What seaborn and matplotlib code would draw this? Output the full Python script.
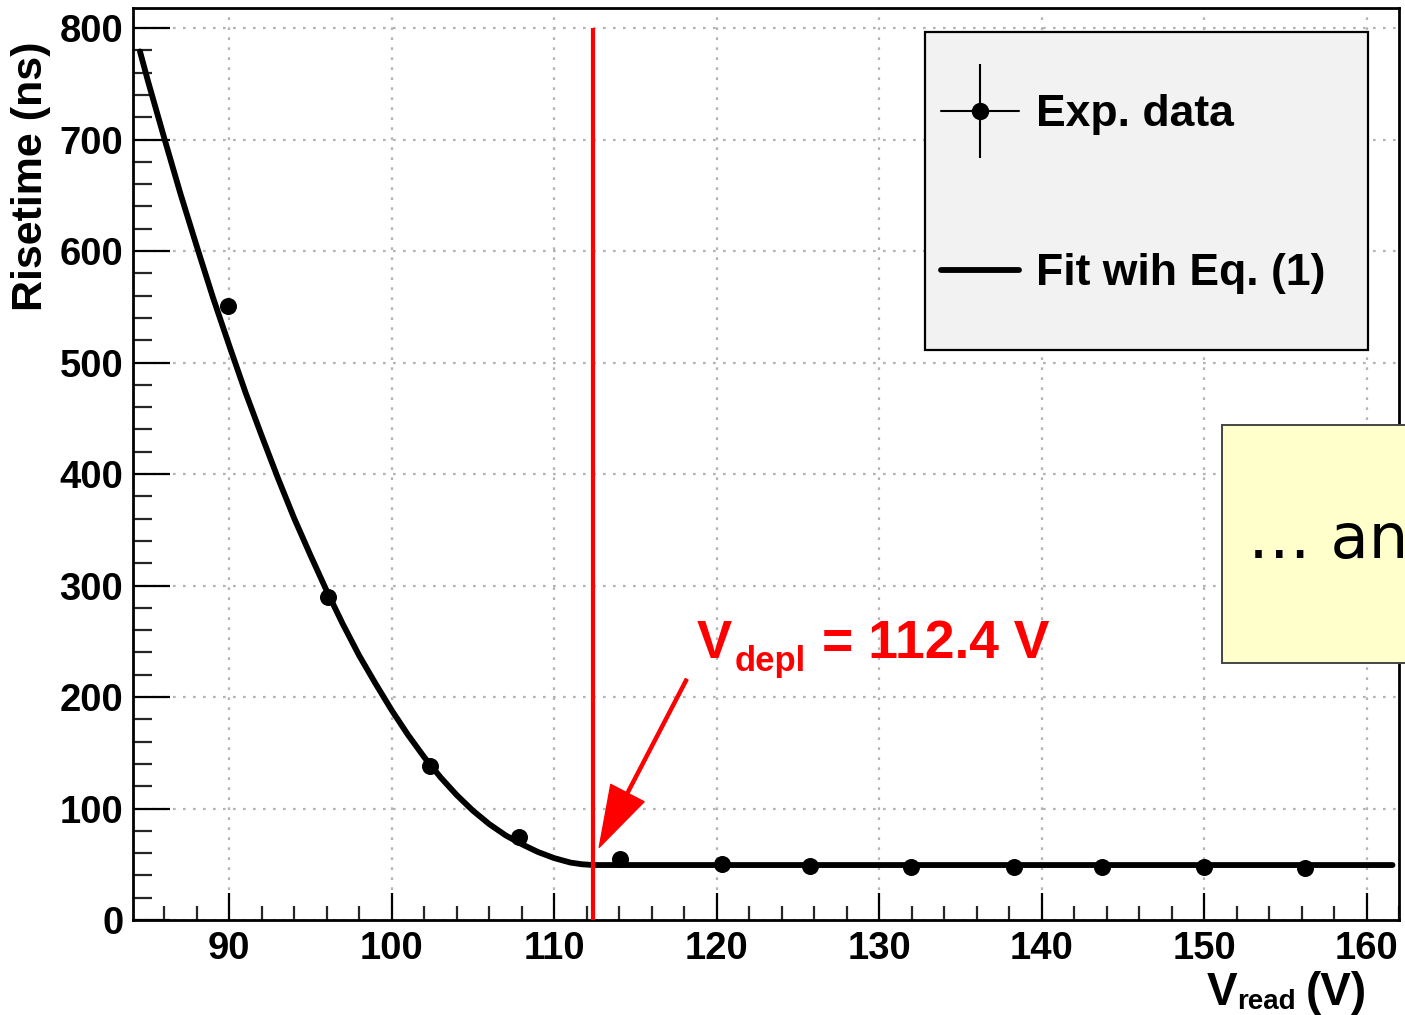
import numpy as np
import pandas as pd
import matplotlib
matplotlib.use("Agg")
import matplotlib.pyplot as plt
import seaborn as sns
from matplotlib.lines import Line2D
from matplotlib.patches import Rectangle
from matplotlib.ticker import MultipleLocator, FixedLocator

# ---------------- data ----------------
v_data = [89.9, 96.07, 102.35, 107.83, 114.06, 120.3, 125.74, 131.99,
          138.29, 143.7, 149.98, 156.2]
t_data = [550.7, 289.7, 138.4, 74.7, 54.7, 49.9, 48.4, 47.8,
          47.3, 47.3, 47.3, 46.4]

fit_v = [84.5, 85, 86, 87, 88, 89, 90, 91, 92, 93, 94, 95, 96, 97, 98, 99,
         100, 101, 102, 103, 104, 105, 106, 107, 108, 109, 110, 111, 111.7,
         112.4, 161.6]
fit_t = [779, 752, 701, 651, 604, 558, 515, 473, 434, 396, 360, 327, 295,
         265, 237, 212, 188, 166, 146, 128, 112, 98, 86, 76, 68, 61, 55.5,
         51.5, 50, 49.3, 49.3]

v_depl = 112.4
v_depl_top = 800

x_major = [90, 100, 110, 120, 130, 140, 150, 160]
y_major = [0, 100, 200, 300, 400, 500, 600, 700, 800]
x_lim = (84.07, 162.0)
y_lim = (0, 818)

legend_labels = ["Exp. data", "Fit wih Eq. (1)"]
x_title = ("V", "read", "(V)")
y_title = "Risetime (ns)"
depl_label = ("V", "depl", "= 112.4 V")
overlay_text = "\u2026 an"

# ---------------- style ----------------
sns.set_theme(style="white")
plt.rcParams["font.family"] = ["Liberation Sans", "DejaVu Sans"]
plt.rcParams["font.weight"] = "bold"
plt.rcParams["axes.labelweight"] = "bold"
plt.rcParams["text.color"] = "black"

W, H = 1405, 1015
fig = plt.figure(figsize=(W / 100, H / 100), dpi=100)
fig.patch.set_facecolor("white")


def fx(px):
    return px / W


def fy(py):
    return 1 - py / H


ax = fig.add_axes([fx(133), fy(920), (1399 - 133) / W, (920 - 8) / H])
ax.set_facecolor("white")

df_pts = pd.DataFrame({"V": v_data, "T": t_data})
df_fit = pd.DataFrame({"V": fit_v, "T": fit_t})

sns.lineplot(data=df_fit, x="V", y="T", ax=ax, color="black", lw=4.2,
             sort=False, legend=False, zorder=3)
sns.scatterplot(data=df_pts, x="V", y="T", ax=ax, color="black", s=150,
                edgecolor="black", linewidth=0, legend=False, zorder=4)
ax.vlines(v_depl, 0, v_depl_top, color="#ff0000", lw=3, zorder=5)

ax.annotate("", xy=(112.77, 65.2), xytext=(118.15, 215.9),
            arrowprops=dict(facecolor="#ff0000", edgecolor="#ff0000",
                            width=2.2, headwidth=27, headlength=44, shrink=0),
            zorder=6)

ax.set_xlim(*x_lim)
ax.set_ylim(*y_lim)
ax.xaxis.set_major_locator(FixedLocator(x_major))
ax.yaxis.set_major_locator(FixedLocator(y_major))
ax.xaxis.set_minor_locator(MultipleLocator(2))
ax.yaxis.set_minor_locator(MultipleLocator(20))
ax.set_xticklabels([str(v) for v in x_major])
ax.set_yticklabels([str(v) for v in y_major])
ax.set_xlabel("")
ax.set_ylabel("")

ax.grid(True, which="major", color="#b4b4b4", linestyle=(0, (1.2, 3.3)),
        lw=1.6, zorder=0)
ax.set_axisbelow(True)

for s in ax.spines.values():
    s.set_linewidth(2.0)
    s.set_color("black")

ax.tick_params(axis="x", which="major", direction="in", length=19.5,
               width=1.6, bottom=True, top=False, pad=8,
               labelsize=27.5, colors="black")
ax.tick_params(axis="x", which="minor", direction="in", length=10,
               width=1.6, bottom=True, top=False)
ax.tick_params(axis="y", which="major", direction="in", length=26.6,
               width=1.6, left=True, right=False, pad=7,
               labelsize=27.5, colors="black")
ax.tick_params(axis="y", which="minor", direction="in", length=13.5,
               width=1.6, left=True, right=False)
for lab in ax.get_xticklabels() + ax.get_yticklabels():
    lab.set_fontweight("bold")

# ---------------- legend ----------------
legend_frame = Rectangle((fx(925), fy(350)), (1368 - 925) / W, (350 - 32) / H,
                         transform=fig.transFigure, facecolor="#f2f2f2",
                         edgecolor="black", lw=1.6, clip_on=False, zorder=9)
ax.add_patch(legend_frame)

fs_leg = 32
h_data = (Line2D([], [], color="black", lw=1.5),
          Line2D([], [], color="black", marker="|", markersize=68,
                 markeredgewidth=1.5, linestyle="none"),
          Line2D([], [], color="black", marker="o", markersize=11.5,
                 linestyle="none"))
h_fit = Line2D([], [], color="black", lw=4.2)
leg = ax.legend([h_data, h_fit], legend_labels,
                loc="upper left",
                bbox_to_anchor=(fx(941), fy(85)),
                bbox_transform=fig.transFigure,
                borderaxespad=0, borderpad=0, handleheight=2.22,
                labelspacing=1.89, handlelength=1.76, handletextpad=0.38,
                frameon=False, labelcolor="black",
                prop={"size": fs_leg, "weight": "bold"})
leg.set_zorder(10)
for t in leg.get_texts():
    t.set_y(10)

# ---------------- titles ----------------
fig.text(fx(31), fy(176), y_title, rotation=90, ha="center", va="center",
         fontsize=31, fontweight="bold", color="black")
fig.text(fx(1207), fy(1005), x_title[0], ha="left", va="baseline",
         fontsize=33, fontweight="bold", color="black")
fig.text(fx(1237), fy(1009), x_title[1], ha="left", va="baseline",
         fontsize=20, fontweight="bold", color="black")
fig.text(fx(1306), fy(1005), x_title[2], ha="left", va="baseline",
         fontsize=33, fontweight="bold", color="black")

fig.text(fx(697), fy(658), depl_label[0], ha="left", va="baseline",
         fontsize=38, fontweight="bold", color="#ff0000")
fig.text(fx(735), fy(671), depl_label[1], ha="left", va="baseline",
         fontsize=25, fontweight="bold", color="#ff0000")
fig.text(fx(822), fy(658), depl_label[2], ha="left", va="baseline",
         fontsize=38.5, fontweight="bold", color="#ff0000")

# ---------------- overlay box ----------------
box = Rectangle((fx(1222), fy(663)), (1420 - 1222) / W, (663 - 425) / H,
                transform=fig.transFigure, facecolor="#ffffcc",
                edgecolor="#444444", lw=1.4, zorder=20)
fig.add_artist(box)
fig.text(fx(1248), fy(558), overlay_text, ha="left", va="baseline",
         fontsize=45, fontweight="normal", family=["DejaVu Sans"],
         color="black", zorder=21)

fig.savefig("out.png", dpi=100)
